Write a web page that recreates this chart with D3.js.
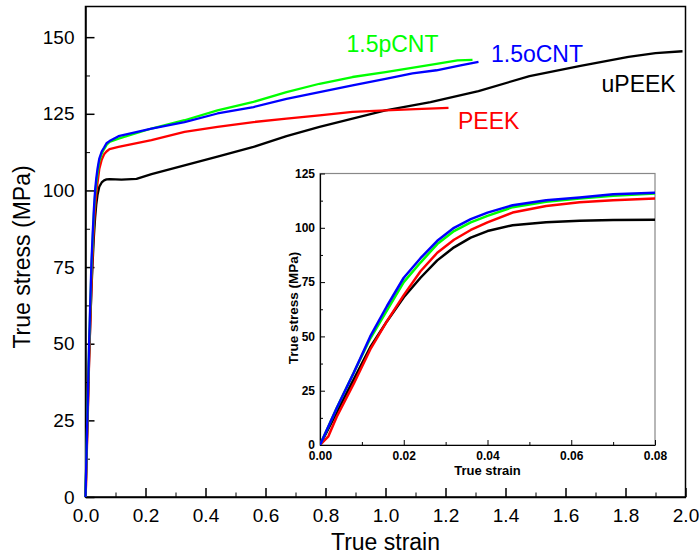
<!DOCTYPE html>
<html>
<head>
<meta charset="utf-8">
<script src="https://cdn.jsdelivr.net/npm/d3@7"></script>
<style>
  body { margin: 0; background: #fff; }
  text { font-family: Arial, "Liberation Sans", sans-serif; }
</style>
</head>
<body>
<div id="chart"></div>
<script>
// series: [true strain, true stress (MPa)]
var uPEEK = [[0,0],[0.004,15],[0.008,30],[0.012,45],[0.016,57],[0.02,68],[0.024,77],[0.028,85],[0.032,91],[0.036,95.5],[0.04,98.5],[0.046,101.2],[0.054,102.6],[0.062,103.3],[0.07,103.6],[0.08,103.7],[0.12,103.5],[0.17,103.8],[0.22,105.3],[0.33,108.2],[0.44,111],[0.56,114.2],[0.67,117.7],[0.78,120.7],[0.89,123.4],[1.0,126.1],[1.15,128.8],[1.31,132.4],[1.48,137.3],[1.65,140.6],[1.81,143.6],[1.9,144.8],[1.99,145.4]];
var PEEK = [[0,0],[0.002,4],[0.004,13],[0.008,28],[0.012,44],[0.016,57],[0.02,69],[0.024,80],[0.028,88.5],[0.032,94.5],[0.036,99],[0.04,102.5],[0.046,107],[0.054,110],[0.062,111.8],[0.07,112.7],[0.08,113.5],[0.11,114.2],[0.22,116.4],[0.33,119.1],[0.44,120.7],[0.56,122.3],[0.67,123.4],[0.78,124.5],[0.89,125.6],[1.0,126.1],[1.1,126.5],[1.21,126.9]];
var pCNT = [[0,0],[0.004,17],[0.008,33],[0.012,49],[0.016,62],[0.02,75],[0.024,84],[0.028,92.5],[0.032,98.5],[0.036,102.5],[0.04,105.5],[0.046,109.5],[0.054,112],[0.062,113.5],[0.07,114.8],[0.08,115.8],[0.11,116.9],[0.22,120.2],[0.33,122.9],[0.44,126.1],[0.56,128.9],[0.67,132.1],[0.78,134.8],[0.89,137],[1.0,138.6],[1.17,141.3],[1.24,142.4],[1.29,142.6]];
var oCNT = [[0,0],[0.004,17],[0.008,33],[0.012,50],[0.016,64],[0.02,77],[0.024,86],[0.028,94],[0.032,100],[0.036,104],[0.04,107],[0.046,110.4],[0.054,112.7],[0.062,114],[0.07,115.4],[0.08,116.1],[0.11,117.7],[0.22,120.2],[0.33,122.3],[0.44,125.1],[0.56,127.2],[0.67,129.9],[0.78,132.1],[0.89,134.3],[1.0,136.4],[1.09,138.2],[1.17,139.2],[1.25,140.8],[1.31,141.9]];

var seriesNames = ["uPEEK", "PEEK", "1.5pCNT", "1.5oCNT"];
var seriesData = [uPEEK, PEEK, pCNT, oCNT];
var seriesColors = ["#000000", "#ff0000", "#00ff00", "#0000ff"];

var xTicks = [0, 0.2, 0.4, 0.6, 0.8, 1.0, 1.2, 1.4, 1.6, 1.8, 2.0];
var yTicks = [0, 25, 50, 75, 100, 125, 150];
var insetXTicks = [0, 0.02, 0.04, 0.06, 0.08];
var insetYTicks = [0, 25, 50, 75, 100, 125];

var svgWidth = 700;
var svgHeight = 556;

var svg = d3.select("#chart")
  .append("svg")
  .attr("width", svgWidth)
  .attr("height", svgHeight);

// main plot
var plotLeft = 85.5, plotRight = 685.5, plotTop = 6.5, plotBottom = 497;

var x = d3.scaleLinear().domain([0, 2]).range([plotLeft, plotRight]);
var y = d3.scaleLinear().domain([0, 160]).range([plotBottom, plotTop]);

// minor ticks
svg.append("g")
  .attr("transform", `translate(0, ${plotBottom})`)
  .call(d3.axisBottom(x).tickValues(d3.range(0.1, 2, 0.2)).tickSize(-4.5).tickFormat(""))
  .call(g => g.select(".domain").remove());
svg.append("g")
  .attr("transform", `translate(${plotLeft}, 0)`)
  .call(d3.axisLeft(y).tickValues(d3.range(12.5, 160, 25)).tickSize(-4.5).tickFormat(""))
  .call(g => g.select(".domain").remove());

var xAxis = svg.append("g")
  .attr("transform", `translate(0, ${plotBottom})`)
  .call(d3.axisBottom(x).tickValues(xTicks).tickSize(-9).tickSizeOuter(0).tickPadding(12).tickFormat(d3.format(".1f")));
var yAxis = svg.append("g")
  .attr("transform", `translate(${plotLeft}, 0)`)
  .call(d3.axisLeft(y).tickValues(yTicks).tickSize(-9).tickSizeOuter(0).tickPadding(11));

[xAxis, yAxis].forEach(function (g) {
  g.selectAll("text").style("font-size", "19px").attr("fill", "#000");
  g.selectAll("line").attr("stroke", "#000").attr("stroke-width", 1.5);
  g.select(".domain").attr("stroke-width", 1.5);
});

// frame
svg.append("rect")
  .attr("x", plotLeft).attr("y", plotTop)
  .attr("width", plotRight - plotLeft).attr("height", plotBottom - plotTop)
  .attr("fill", "none").attr("stroke", "#000").attr("stroke-width", 1.5);

var line = d3.line()
  .x(d => x(d[0]))
  .y(d => y(d[1]));

svg.append("g").selectAll("path")
  .data(seriesData)
  .enter()
  .append("path")
  .attr("d", line)
  .attr("fill", "none")
  .attr("stroke", (d, i) => seriesColors[i])
  .attr("stroke-width", 2.3)
  .attr("stroke-linejoin", "round");

// curve labels
var labelPos = [[601.5, 91.5], [458, 128.5], [346.5, 51.5], [491, 62]];
svg.append("g").selectAll("text")
  .data(seriesNames)
  .enter()
  .append("text")
  .attr("x", (d, i) => labelPos[i][0])
  .attr("y", (d, i) => labelPos[i][1])
  .style("font-size", "23px")
  .attr("fill", (d, i) => seriesColors[i])
  .text(d => d);

svg.append("text")
  .attr("x", (plotLeft + plotRight) / 2)
  .attr("y", 550)
  .attr("text-anchor", "middle")
  .style("font-size", "23px")
  .text("True strain");

svg.append("text")
  .attr("transform", "translate(30, 257) rotate(-90)")
  .attr("text-anchor", "middle")
  .style("font-size", "23px")
  .text("True stress (MPa)");

// inset
var iLeft = 320, iRight = 655, iTop = 173.5, iBottom = 445;
var ix = d3.scaleLinear().domain([0, 0.08]).range([iLeft, iRight]);
var iy = d3.scaleLinear().domain([0, 125]).range([iBottom, iTop]);

svg.append("rect")
  .attr("x", iLeft).attr("y", iTop)
  .attr("width", iRight - iLeft).attr("height", iBottom - iTop)
  .attr("fill", "#fff").attr("stroke", "#888").attr("stroke-width", 1.2);

svg.append("clipPath").attr("id", "insetClip")
  .append("rect")
  .attr("x", iLeft).attr("y", iTop)
  .attr("width", iRight - iLeft).attr("height", iBottom - iTop);

svg.append("g")
  .attr("transform", `translate(0, ${iBottom})`)
  .call(d3.axisBottom(ix).tickValues(d3.range(0.01, 0.08, 0.02)).tickSize(-3).tickFormat(""))
  .call(g => g.select(".domain").remove());
svg.append("g")
  .attr("transform", `translate(${iLeft}, 0)`)
  .call(d3.axisLeft(iy).tickValues(d3.range(12.5, 125, 25)).tickSize(-3).tickFormat(""))
  .call(g => g.select(".domain").remove());

var ixAxis = svg.append("g")
  .attr("transform", `translate(0, ${iBottom})`)
  .call(d3.axisBottom(ix).tickValues(insetXTicks).tickSize(-5).tickSizeOuter(0).tickPadding(6).tickFormat(d3.format(".2f")));
var iyAxis = svg.append("g")
  .attr("transform", `translate(${iLeft}, 0)`)
  .call(d3.axisLeft(iy).tickValues(insetYTicks).tickSize(-5).tickSizeOuter(0).tickPadding(5));

[ixAxis, iyAxis].forEach(function (g) {
  g.selectAll("text").style("font-size", "12px").style("font-weight", "bold").attr("fill", "#000");
  g.select(".domain").attr("stroke-width", 1.2);
});

var iline = d3.line()
  .x(d => ix(d[0]))
  .y(d => iy(d[1]));

svg.append("g")
  .attr("clip-path", "url(#insetClip)")
  .selectAll("path")
  .data(seriesData)
  .enter()
  .append("path")
  .attr("d", iline)
  .attr("fill", "none")
  .attr("stroke", (d, i) => seriesColors[i])
  .attr("stroke-width", 2.5)
  .attr("stroke-linejoin", "round");

svg.append("text")
  .attr("x", (iLeft + iRight) / 2)
  .attr("y", 475)
  .attr("text-anchor", "middle")
  .style("font-size", "13px")
  .style("font-weight", "bold")
  .text("True strain");

svg.append("text")
  .attr("transform", "translate(298, 308) rotate(-90)")
  .attr("text-anchor", "middle")
  .style("font-size", "13.5px")
  .style("font-weight", "bold")
  .text("True stress (MPa)");
</script>
</body>
</html>
